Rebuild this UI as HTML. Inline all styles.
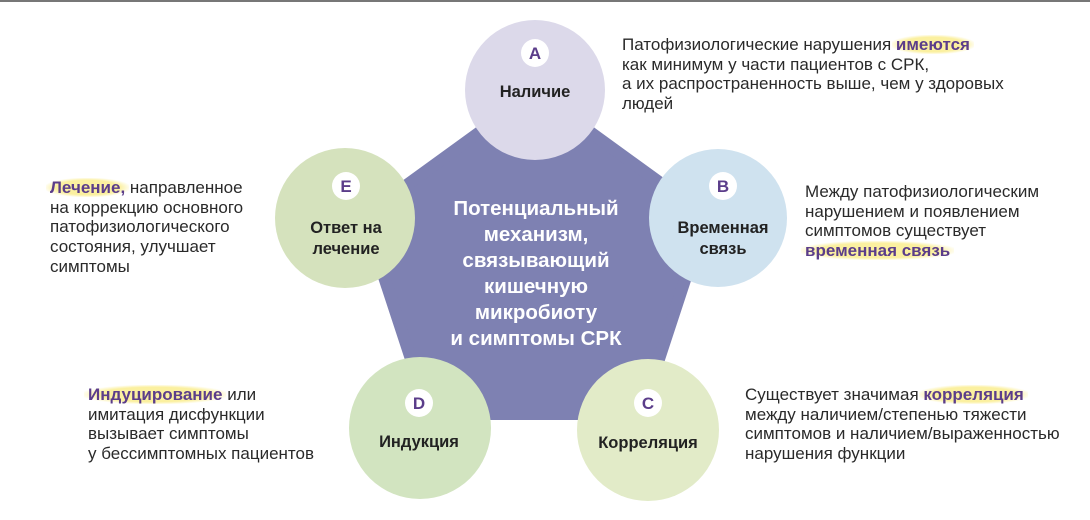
<!DOCTYPE html>
<html><head><meta charset="utf-8"><style>
body{margin:0;width:1090px;height:520px;background:#fff;position:relative;overflow:hidden;font-family:"Liberation Sans",sans-serif;}
.t{position:absolute;font-size:17px;line-height:19.7px;color:#2a2a2a;}
.h{color:#5b3d8a;font-weight:bold;background:radial-gradient(ellipse at center,#fbf0a0 55%,rgba(251,240,160,0) 75%);padding:0 4px;margin:0 -4px;}
</style></head><body>
<div style="position:absolute;left:0;top:0;width:1090px;height:2px;background:#777"></div>
<svg width="1090" height="520" style="position:absolute;left:0;top:0" font-family="Liberation Sans, sans-serif">
<polygon points="535,92 706,216 641,414 429,414 364,216" fill="#7e81b2" stroke="#7e81b2" stroke-width="12" stroke-linejoin="round"/>
<circle cx="535" cy="90" r="70" fill="#dcd9ea"/>
<circle cx="718" cy="218" r="69" fill="#cfe2ef"/>
<circle cx="648" cy="430" r="71" fill="#e2ebc8"/>
<circle cx="420" cy="428" r="71" fill="#d2e4c0"/>
<circle cx="345" cy="218" r="70" fill="#d5e2bd"/>
<g fill="#fff"><circle cx="535" cy="53" r="14"/><circle cx="723" cy="186" r="14"/><circle cx="648" cy="403" r="14"/><circle cx="419" cy="403" r="14"/><circle cx="346" cy="186" r="14"/></g>
<g fill="#5b3d8a" font-weight="bold" font-size="17" text-anchor="middle">
<text x="535" y="59">A</text><text x="723" y="192">B</text><text x="648" y="409">C</text><text x="419" y="409">D</text><text x="346" y="192">E</text></g>
<g fill="#222" font-weight="bold" font-size="16.5" text-anchor="middle">
<text x="535" y="97">Наличие</text>
<text x="723" y="233">Временная</text><text x="723" y="254">связь</text>
<text x="648" y="448">Корреляция</text>
<text x="419" y="447">Индукция</text>
<text x="346" y="233">Ответ на</text><text x="346" y="254">лечение</text></g>
<g fill="#fff" font-weight="bold" font-size="20.5" text-anchor="middle">
<text x="536" y="215">Потенциальный</text><text x="536" y="241">механизм,</text><text x="536" y="267">связывающий</text><text x="536" y="293">кишечную</text><text x="536" y="319">микробиоту</text><text x="536" y="345">и симптомы СРК</text></g>
</svg>
<div class="t" style="left:622px;top:35px">Патофизиологические нарушения <span class="h">имеются</span><br>как минимум у части пациентов с СРК,<br>а их распространенность выше, чем у здоровых<br>людей</div>
<div class="t" style="left:805px;top:182px">Между патофизиологическим<br>нарушением и появлением<br>симптомов существует<br><span class="h">временная связь</span></div>
<div class="t" style="left:745px;top:385px">Существует значимая <span class="h">корреляция</span><br>между наличием/степенью тяжести<br>симптомов и наличием/выраженностью<br>нарушения функции</div>
<div class="t" style="left:88px;top:385px"><span class="h">Индуцирование</span> или<br>имитация дисфункции<br>вызывает симптомы<br>у бессимптомных пациентов</div>
<div class="t" style="left:50px;top:178px"><span class="h">Лечение,</span> направленное<br>на коррекцию основного<br>патофизиологического<br>состояния, улучшает<br>симптомы</div>
</body></html>
